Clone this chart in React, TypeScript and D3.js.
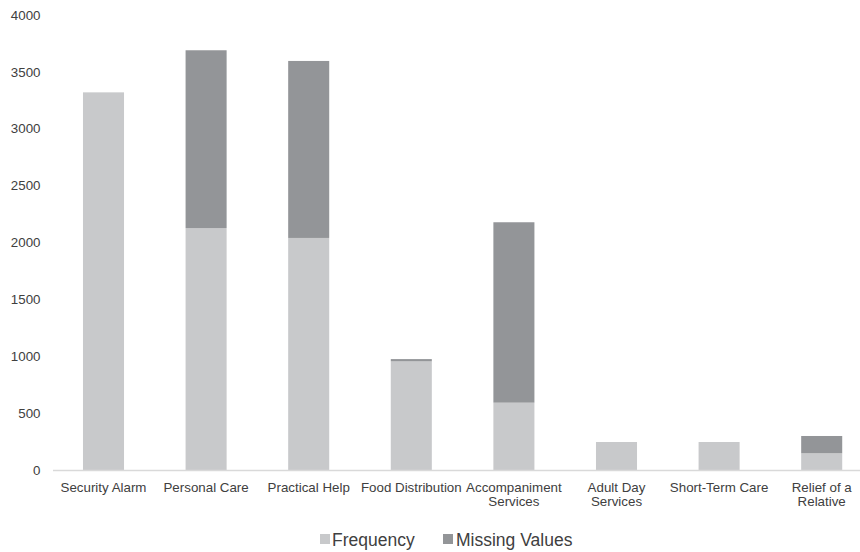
import React from "react";
import * as d3 from "d3";

const categories = [
  "Security Alarm",
  "Personal Care",
  "Practical Help",
  "Food Distribution",
  "Accompaniment Services",
  "Adult Day Services",
  "Short-Term Care",
  "Relief of a Relative",
];
const frequency = [3320, 2127, 2040, 955, 592, 246, 246, 147];
const missingValues = [0, 1563, 1556, 20, 1586, 0, 0, 152];
const seriesNames = ["Frequency", "Missing Values"];
const yTicks = [0, 500, 1000, 1500, 2000, 2500, 3000, 3500, 4000];

const W = 860;
const H = 552;
const FONT = "'Liberation Sans', Arial, sans-serif";
const colors = ["#c8c9cb", "#939598"];
const textColor = "#404040";

function measure(text: string, size: number): number {
  const c = document.createElement("canvas");
  const ctx = c.getContext("2d")!;
  ctx.font = `${size}px 'Liberation Sans', Arial, sans-serif`;
  return ctx.measureText(text).width;
}

function wrap(text: string, maxW: number, size: number): string[] {
  const words = text.split(" ");
  const lines: string[] = [];
  let cur = "";
  for (const w of words) {
    const t = cur ? cur + " " + w : w;
    if (cur && measure(t, size) > maxW) {
      lines.push(cur);
      cur = w;
    } else cur = t;
  }
  if (cur) lines.push(cur);
  return lines;
}

export default function App() {
  const x = d3.scaleBand<string>().domain(categories).range([52.2, 873]).paddingInner(0.6).paddingOuter(0.3);
  const y = d3.scaleLinear().domain([0, 4000]).range([470, 15]);
  const rows = categories.map((c, i) => ({ cat: c, Frequency: frequency[i], "Missing Values": missingValues[i] }));
  const stacked = d3.stack<any>().keys(seriesNames)(rows);
  const tickSize = 13.33;
  const step = x.step();

  return (
    <svg width={W} height={H} style={{ position: "absolute", left: 0, top: 0, background: "#fff" }} fontFamily={FONT}>
      <rect width={W} height={H} fill="#fff" />
      {yTicks.map((t) => (
        <text key={t} x={40.5} y={y(t)} dy="0.35em" textAnchor="end" fontSize={tickSize} fill={textColor}>
          {t}
        </text>
      ))}
      {stacked.map((s, si) => (
        <g key={seriesNames[si]} fill={colors[si]}>
          {s.map((d: any, i: number) =>
            d[1] - d[0] > 0 ? (
              <rect
                key={i}
                x={x(categories[i])!}
                y={y(d[1])}
                width={x.bandwidth()}
                height={y(d[0]) - y(d[1])}
              />
            ) : null
          )}
        </g>
      ))}
      <line x1={53} x2={W} y1={470.5} y2={470.5} stroke="#d9d9d9" strokeWidth={1.5} />
      {categories.map((c) => {
        const lines = wrap(c, step + 4, tickSize);
        const cx = x(c)! + x.bandwidth() / 2;
        return (
          <text key={c} textAnchor="middle" fontSize={tickSize} fill={textColor}>
            {lines.map((l, li) => (
              <tspan key={li} x={cx} y={491.5 + li * 14.5}>
                {l}
              </tspan>
            ))}
          </text>
        );
      })}
      <g>
        <rect x={320} y={534} width={10} height={10} fill={colors[0]} />
        <text x={332} y={545.5} fontSize={17.5} fill={textColor}>
          {seriesNames[0]}
        </text>
        <rect x={443} y={534} width={10} height={10} fill={colors[1]} />
        <text x={456} y={545.5} fontSize={17.5} fill={textColor}>
          {seriesNames[1]}
        </text>
      </g>
    </svg>
  );
}
